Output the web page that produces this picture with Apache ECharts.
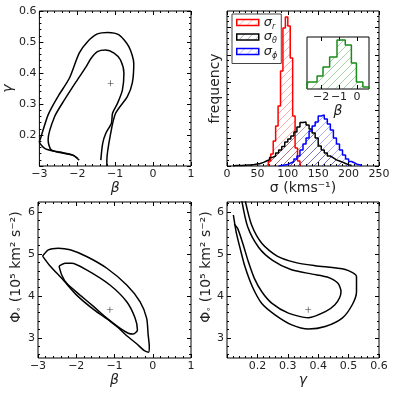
<!DOCTYPE html>
<html>
<head>
<meta charset="utf-8">
<script src="https://cdn.jsdelivr.net/npm/echarts@6/dist/echarts.min.js"></script>
<style>
html, body { margin: 0; padding: 0; background: #fff; }
#chart { width: 395px; height: 395px; }
</style>
</head>
<body>
<div id="chart"></div>
<script>
// ---- tick labels ----
let beta_ticks = [-3, -2, -1, 0, 1];
let gamma_ticks = [0.1, 0.2, 0.3, 0.4, 0.5, 0.6];
let gamma_labels = [0.2, 0.3, 0.4, 0.5, 0.6];
let phi_ticks = [3, 4, 5, 6];
let sigma_ticks = [0, 50, 100, 150, 200, 250];
let freq_ticks = [0, 100, 200, 300, 400, 500];
let inset_ticks = [-2, -1, 0];

// ---- beta - gamma 等高线 ----
let bg_outer = [[-1.22, 0.100], [-1.22, 0.119], [-1.12, 0.205], [-0.99, 0.270], [-0.68, 0.324], [-0.55, 0.367], [-0.51, 0.431], [-0.64, 0.485], [-0.90, 0.523], [-1.20, 0.531], [-1.47, 0.526], [-1.73, 0.501], [-1.95, 0.464], [-2.21, 0.383], [-2.51, 0.324], [-2.77, 0.265], [-2.97, 0.189], [-3.00, 0.178], [-2.86, 0.157], [-2.56, 0.146], [-2.12, 0.135], [-1.95, 0.119]];
let bg_inner = [[-1.38, 0.119], [-1.33, 0.173], [-1.25, 0.205], [-1.10, 0.238], [-1.07, 0.270], [-0.94, 0.302], [-0.81, 0.345], [-0.77, 0.399], [-0.86, 0.442], [-1.03, 0.464], [-1.25, 0.474], [-1.47, 0.469], [-1.64, 0.447], [-1.77, 0.420], [-2.03, 0.372], [-2.34, 0.313], [-2.60, 0.259], [-2.77, 0.184], [-2.69, 0.152], [-2.38, 0.143], [-2.12, 0.135], [-1.99, 0.125]];
let bg_best = [[-1.12, 0.367]];

// ---- beta - phi 等高线 ----
let bp_outer = [[-2.88, 4.95], [-2.73, 5.10], [-2.47, 5.14], [-2.16, 5.10], [-1.73, 4.94], [-1.20, 4.66], [-0.68, 4.26], [-0.33, 3.86], [-0.16, 3.47], [-0.12, 3.07], [-0.09, 2.79], [-0.11, 2.66], [-0.23, 2.70], [-0.42, 2.86], [-0.68, 3.05], [-0.90, 3.24], [-1.12, 3.40], [-1.55, 3.68], [-1.99, 4.02], [-2.34, 4.38], [-2.69, 4.72], [-2.88, 4.95]];
let bp_inner = [[-2.45, 4.71], [-2.29, 4.78], [-2.12, 4.78], [-1.73, 4.62], [-1.12, 4.26], [-0.68, 3.86], [-0.46, 3.47], [-0.40, 3.19], [-0.51, 3.09], [-0.64, 3.11], [-0.86, 3.23], [-1.20, 3.47], [-1.55, 3.75], [-1.90, 4.02], [-2.25, 4.30], [-2.38, 4.50], [-2.45, 4.71]];
let bp_best = [[-1.12, 3.67]];

// ---- gamma - phi 等高线 ----
let gp_outer = [[0.159, 6.30], [0.181, 5.69], [0.215, 5.25], [0.265, 4.95], [0.324, 4.80], [0.390, 4.72], [0.489, 4.63], [0.526, 4.46], [0.526, 4.10], [0.512, 3.79], [0.479, 3.47], [0.423, 3.27], [0.368, 3.21], [0.313, 3.31], [0.258, 3.55], [0.2145, 3.82], [0.1835, 4.22], [0.159, 4.70], [0.143, 5.14], [0.130, 5.53], [0.121, 5.93]];
let gp_inner = [[0.148, 6.30], [0.168, 5.65], [0.205, 5.15], [0.250, 4.85], [0.310, 4.63], [0.380, 4.52], [0.430, 4.45], [0.465, 4.30], [0.475, 4.10], [0.470, 3.95], [0.455, 3.79], [0.425, 3.63], [0.368, 3.48], [0.302, 3.59], [0.247, 3.83], [0.2145, 4.10], [0.190, 4.42], [0.170, 4.82], [0.152, 5.25], [0.135, 5.61], [0.124, 5.71]];
let gp_best = [[0.367, 3.67]];

// ---- 直方图 (sigma, km/s) ----
let sigma_r_start = 68, sigma_r_width = 4;
let sigma_r_counts = [18, 43, 90, 144, 216, 342, 497, 536, 504, 389, 180, 65, 18];
let sigma_t_start = 10, sigma_t_width = 5;
let sigma_t_counts = [2, 2, 2, 3, 4, 4, 5, 7, 9, 13, 18, 23, 31, 36, 47, 58, 70, 86, 97, 108, 122, 140, 157, 158, 148, 133, 119, 101, 72, 58, 47, 36, 29, 22, 18, 14, 9, 5, 2];
let sigma_p_start = 85, sigma_p_width = 5;
let sigma_p_counts = [2, 4, 5, 11, 16, 25, 36, 58, 79, 101, 126, 144, 158, 180, 184, 169, 151, 130, 101, 79, 58, 40, 25, 16, 11, 5, 4];

// ---- 小图 beta 直方图 ----
let beta_edges = [-2.78, -2.22, -1.89, -1.52, -1.11, -0.65, -0.31, -0.03, 0.33, 0.67];
let beta_counts = [7, 13, 22, 32, 49, 44, 26, 7, 2];

const FONT = 'DejaVu Sans';
const TXT = '#222';

function range(a, b, step) {
	let out = [];
	for (let v = a; v <= b + 1e-9; v += step) out.push(Math.round(v * 1000) / 1000);
	return out;
}

function edges_from(start, width, n) {
	let e = [];
	for (let i = 0; i <= n; i++) e.push(start + i * width);
	return e;
}

// 阶梯轮廓
function step_line(edges, counts) {
	let d = [[edges[0], 0]];
	counts.forEach((c, i) => {
		d.push([edges[i], c]);
		d.push([edges[i + 1], c]);
	});
	d.push([edges[edges.length - 1], 0]);
	return d;
}

// 斜线填充
function hatch(color) {
	let s = 8;
	let c = document.createElement('canvas');
	c.width = s;
	c.height = s;
	let ctx = c.getContext('2d');
	ctx.strokeStyle = color;
	ctx.lineWidth = 1;
	ctx.beginPath();
	ctx.moveTo(0, s);
	ctx.lineTo(s, 0);
	ctx.moveTo(-1, 1);
	ctx.lineTo(1, -1);
	ctx.moveTo(s - 1, s + 1);
	ctx.lineTo(s + 1, s - 1);
	ctx.stroke();
	return { image: c, repeat: 'repeat' };
}

let fmt_int = (v) => String(v).replace('-', '\u2212');
let fmt_1 = (v) => v.toFixed(1);

let x_axes = [];
let y_axes = [];
// 每个面板的轴：主刻度 + 次刻度，四边都有
function add_axes(list, dim, grid, rng, majors, minors, opt) {
	let pos = dim === 'x' ? ['bottom', 'top'] : ['left', 'right'];
	let main = list.length;
	let groups = [[majors, 4]];
	if (minors.length) groups.push([minors, 2]);
	groups.forEach(([vals, len], k) => {
		pos.forEach((p, j) => {
			let a = {
				type: 'value',
				gridIndex: grid,
				position: p,
				min: rng[0],
				max: rng[1],
				axisLine: { show: false, onZero: false },
				splitLine: { show: false },
				axisTick: { show: vals.length > 0, inside: true, length: len, customValues: vals, lineStyle: { color: '#000', width: 1 } },
				axisLabel: { show: false },
			};
			if (k === 0 && j === 0) {
				if (opt.labels) {
					a.axisLabel = { show: true, customValues: opt.labels, formatter: opt.fmt, margin: opt.margin, color: TXT, fontSize: 11, fontFamily: FONT };
				}
				if (opt.name) {
					a.name = opt.name;
					a.nameLocation = 'middle';
					a.nameGap = opt.gap;
					a.nameTextStyle = Object.assign({ fontSize: 14, color: TXT, fontFamily: FONT }, opt.nameStyle || {});
				}
			}
			list.push(a);
		});
	});
	return main;
}

let greek = { fontStyle: 'italic' };
let phi_name = '{a|\u03a6}{b|\u2218} (10\u2075 km\u00b2 s\u207b\u00b2)';
let phi_style = {
	padding: [0, 0, 0, 26],
	rich: {
		a: { fontSize: 14, fontFamily: FONT, color: TXT },
		b: { fontSize: 8, fontFamily: FONT, color: TXT, verticalAlign: 'bottom', lineHeight: 9 },
	},
};

// 面板 0: beta-gamma
let x0 = add_axes(x_axes, 'x', 0, [-3, 1], beta_ticks, range(-3, 1, 0.2), { labels: beta_ticks, fmt: fmt_int, margin: 3, name: '\u03b2', gap: 14, nameStyle: greek });
let y0 = add_axes(y_axes, 'y', 0, [0.1, 0.6], gamma_ticks, range(0.1, 0.6, 0.02), { labels: gamma_labels, fmt: fmt_1, margin: 3, name: '\u03b3', gap: 19, nameStyle: greek });
// 面板 1: 直方图
let x1 = add_axes(x_axes, 'x', 1, [0, 250], sigma_ticks, range(0, 250, 10), { labels: sigma_ticks, fmt: fmt_int, margin: 3, name: '\u03c3 (kms\u207b\u00b9)', gap: 13 });
let y1 = add_axes(y_axes, 'y', 1, [0, 558], freq_ticks, range(0, 540, 20), { name: 'frequency', gap: 5 });
// 面板 2: 小图
let x2 = add_axes(x_axes, 'x', 2, [beta_edges[0], beta_edges[beta_edges.length - 1]], inset_ticks, [], { labels: inset_ticks, fmt: fmt_int, margin: 3, name: '\u03b2', gap: 14, nameStyle: greek });
let y2 = add_axes(y_axes, 'y', 2, [0, 52], [], [], {});
// 面板 3: beta-phi
let x3 = add_axes(x_axes, 'x', 3, [-3, 1], beta_ticks, range(-3, 1, 0.2), { labels: beta_ticks, fmt: fmt_int, margin: 3, name: '\u03b2', gap: 15, nameStyle: greek });
let y3 = add_axes(y_axes, 'y', 3, [2.52, 6.24], phi_ticks, range(2.6, 6.2, 0.2), { labels: phi_ticks, fmt: fmt_int, margin: 3, name: phi_name, gap: 15, nameStyle: phi_style });
// 面板 4: gamma-phi
let x4 = add_axes(x_axes, 'x', 4, [0.1, 0.6], gamma_ticks, range(0.1, 0.6, 0.02), { labels: gamma_labels, fmt: fmt_1, margin: 3, name: '\u03b3', gap: 15, nameStyle: greek });
let y4 = add_axes(y_axes, 'y', 4, [2.52, 6.24], phi_ticks, range(2.6, 6.2, 0.2), { labels: phi_ticks, fmt: fmt_int, margin: 3, name: phi_name, gap: 10, nameStyle: phi_style });

let box = { show: true, borderColor: '#000', borderWidth: 1, backgroundColor: 'transparent', containLabel: false };

function contour(xi, yi, data) {
	return { type: 'line', xAxisIndex: xi, yAxisIndex: yi, data: data, symbol: 'none', smooth: 0.25, lineStyle: { color: '#000', width: 1.5 }, silent: true };
}
function best(xi, yi, data) {
	return { type: 'scatter', xAxisIndex: xi, yAxisIndex: yi, data: data, symbol: 'path://M0,4.5H10V5.5H0ZM4.5,0H5.5V10H4.5Z', symbolSize: 6, itemStyle: { color: '#000' }, silent: true };
}
function hist(name, xi, yi, data, edge, fill) {
	return {
		type: 'line',
		name: name,
		xAxisIndex: xi,
		yAxisIndex: yi,
		data: data,
		symbol: 'none',
		lineStyle: { color: edge, width: 1.5 },
		itemStyle: { color: edge },
		areaStyle: { color: hatch(fill), opacity: 1 },
		silent: true,
	};
}

let hatch_r = 'rgba(255,0,0,0.32)';
let hatch_k = 'rgba(0,0,0,0.32)';
let hatch_b = 'rgba(0,0,255,0.32)';
let hatch_g = 'rgba(0,128,0,0.35)';

let legend_text = {
	sigma_r: '{s|\u03c3}{b|r}',
	sigma_t: '{s|\u03c3}{b|\u03b8}',
	sigma_p: '{s|\u03c3}{b|\u03d5}',
};

let chart = echarts.init(document.getElementById('chart'), null, { renderer: 'canvas' });
chart.setOption({
	animation: false,
	backgroundColor: '#fff',
	grid: [
		Object.assign({ left: 38, top: 11, width: 153, height: 155 }, box),
		Object.assign({ left: 227, top: 11, width: 152, height: 155 }, box),
		Object.assign({ left: 307, top: 37, width: 62, height: 52 }, box),
		Object.assign({ left: 38, top: 202, width: 153, height: 156 }, box),
		Object.assign({ left: 227, top: 202, width: 152, height: 156 }, box),
	],
	xAxis: x_axes,
	yAxis: y_axes,
	legend: {
		left: 232,
		top: 14,
		orient: 'vertical',
		itemWidth: 22,
		itemHeight: 6,
		itemGap: 0,
		padding: [2, 4, 4, 4],
		borderColor: '#444',
		borderWidth: 1,
		backgroundColor: '#fff',
		selectedMode: false,
		icon: 'rect',
		data: [
			{ name: 'sigma_r', itemStyle: { color: hatch(hatch_r), borderColor: '#f00', borderWidth: 1.5 } },
			{ name: 'sigma_t', itemStyle: { color: hatch(hatch_k), borderColor: '#000', borderWidth: 1.5 } },
			{ name: 'sigma_p', itemStyle: { color: hatch(hatch_b), borderColor: '#00f', borderWidth: 1.5 } },
		],
		formatter: (n) => legend_text[n],
		textStyle: {
			rich: {
				s: { fontSize: 13, fontStyle: 'italic', fontFamily: FONT, color: TXT, lineHeight: 16 },
				b: { fontSize: 8, fontStyle: 'italic', fontFamily: FONT, color: TXT, verticalAlign: 'bottom', lineHeight: 10 },
			},
		},
	},
	series: [
		contour(x0, y0, bg_outer),
		contour(x0, y0, bg_inner),
		best(x0, y0, bg_best),
		hist('sigma_r', x1, y1, step_line(edges_from(sigma_r_start, sigma_r_width, sigma_r_counts.length), sigma_r_counts), '#f00', hatch_r),
		hist('sigma_t', x1, y1, step_line(edges_from(sigma_t_start, sigma_t_width, sigma_t_counts.length), sigma_t_counts), '#000', hatch_k),
		hist('sigma_p', x1, y1, step_line(edges_from(sigma_p_start, sigma_p_width, sigma_p_counts.length), sigma_p_counts), '#00f', hatch_b),
		hist('beta', x2, y2, step_line(beta_edges, beta_counts), '#1a8c1a', hatch_g),
		contour(x3, y3, bp_outer),
		contour(x3, y3, bp_inner),
		best(x3, y3, bp_best),
		contour(x4, y4, gp_outer),
		contour(x4, y4, gp_inner),
		best(x4, y4, gp_best),
	],
});
</script>
</body>
</html>
